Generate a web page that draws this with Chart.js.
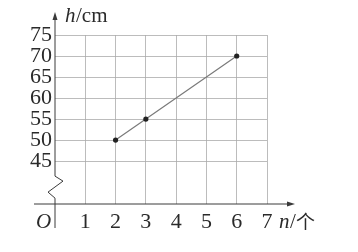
<!DOCTYPE html>
<html>
<head>
<meta charset="utf-8">
<script src="https://cdn.jsdelivr.net/npm/chart.js@4"></script>
<style>
  html, body { margin: 0; padding: 0; background: #fff; }
  #wrap { width: 358px; height: 252px; position: relative; }
</style>
</head>
<body>
<div id="wrap"><canvas id="c"></canvas></div>
<script>
// data: n = number of pieces, h = height in cm
const nValues = [2, 3, 6];
const hValues = [50, 55, 70];
const xTicks  = [1, 2, 3, 4, 5, 6, 7];
const yTicks  = [45, 50, 55, 60, 65, 70, 75];

const SERIF = '"Liberation Serif", "DejaVu Serif", serif';
const AXIS_COLOR = '#3a3a3a';
const GRID_COLOR = '#ababab';

// axes with arrows, the y-axis break and the unit labels
const axesPlugin = {
  id: 'axes',
  afterDraw(chart) {
    const c = chart.ctx;
    const xs = chart.scales.x, ys = chart.scales.y;
    const x0 = xs.getPixelForValue(0);
    const yb = chart.chartArea.bottom;
    const y45 = ys.getPixelForValue(45);
    c.save();
    c.strokeStyle = AXIS_COLOR;
    c.fillStyle = AXIS_COLOR;
    c.lineWidth = 1;

    // y axis with zigzag break
    c.beginPath();
    c.moveTo(x0, 18);
    c.lineTo(x0, y45 + 15);
    c.lineTo(x0 + 8, y45 + 20);
    c.lineTo(x0 - 7, y45 + 31);
    c.lineTo(x0, y45 + 37);
    c.lineTo(x0, yb + 24);
    c.stroke();
    // y arrow
    c.beginPath();
    c.moveTo(x0, 12);
    c.lineTo(x0 - 2.5, 20);
    c.lineTo(x0 + 2.5, 20);
    c.closePath();
    c.fill();

    // x axis
    const xEnd = xs.getPixelForValue(7) + 26;
    c.beginPath();
    c.moveTo(x0 - 21, yb);
    c.lineTo(xEnd - 4, yb);
    c.stroke();
    c.beginPath();
    c.moveTo(xEnd + 2, yb);
    c.lineTo(xEnd - 6, yb - 2.5);
    c.lineTo(xEnd - 6, yb + 2.5);
    c.closePath();
    c.fill();

    // labels
    c.fillStyle = '#2a2a2a';
    c.textBaseline = 'middle';
    c.textAlign = 'left';
    c.font = 'italic 21px ' + SERIF;
    c.fillText('O', x0 - 19, yb + 18);
    c.fillText('h', x0 + 10, 16);
    c.font = '21px ' + SERIF;
    c.fillText('/cm', x0 + 21, 16);
    const xl = xs.getPixelForValue(7) + 12;
    c.font = 'italic 21px ' + SERIF;
    c.fillText('n', xl, yb + 18);
    c.font = '21px ' + SERIF;
    c.fillText('/', xl + 11, yb + 18);
    c.font = '19px "Noto Sans CJK SC", sans-serif';
    c.fillText('个', xl + 17, yb + 18);
    c.restore();
  }
};

new Chart(document.getElementById('c'), {
  type: 'line',
  data: {
    datasets: [{
      data: nValues.map((n, i) => ({ x: n, y: hValues[i] })),
      borderColor: '#7a7a7a',
      borderWidth: 1.2,
      pointRadius: 2.6,
      pointBackgroundColor: '#222',
      pointBorderColor: '#222',
      pointBorderWidth: 0,
      fill: false,
      tension: 0
    }]
  },
  options: {
    responsive: true,
    maintainAspectRatio: false,
    animation: false,
    layout: { padding: { left: 0, right: 91, top: 35, bottom: 0 } },
    plugins: {
      legend: { display: false },
      tooltip: { enabled: false }
    },
    scales: {
      x: {
        type: 'linear',
        min: 0,
        max: 7,
        afterBuildTicks: s => { s.ticks = xTicks.map(v => ({ value: v })); },
        afterFit: s => { s.height = 48; },
        border: { display: false },
        grid: { color: GRID_COLOR, lineWidth: 0.8, drawTicks: false },
        ticks: {
          padding: 5,
          color: '#2a2a2a',
          font: { family: SERIF, size: 22 }
        }
      },
      y: {
        min: 34.8,
        max: 75,
        afterBuildTicks: s => { s.ticks = yTicks.map(v => ({ value: v })); },
        afterFit: s => { s.width = 55; },
        border: { display: false },
        grid: { color: GRID_COLOR, lineWidth: 0.8, drawTicks: false },
        ticks: {
          padding: 3,
          color: '#2a2a2a',
          font: { family: SERIF, size: 22, lineHeight: 1 }
        }
      }
    }
  },
  plugins: [axesPlugin]
});
</script>
</body>
</html>
